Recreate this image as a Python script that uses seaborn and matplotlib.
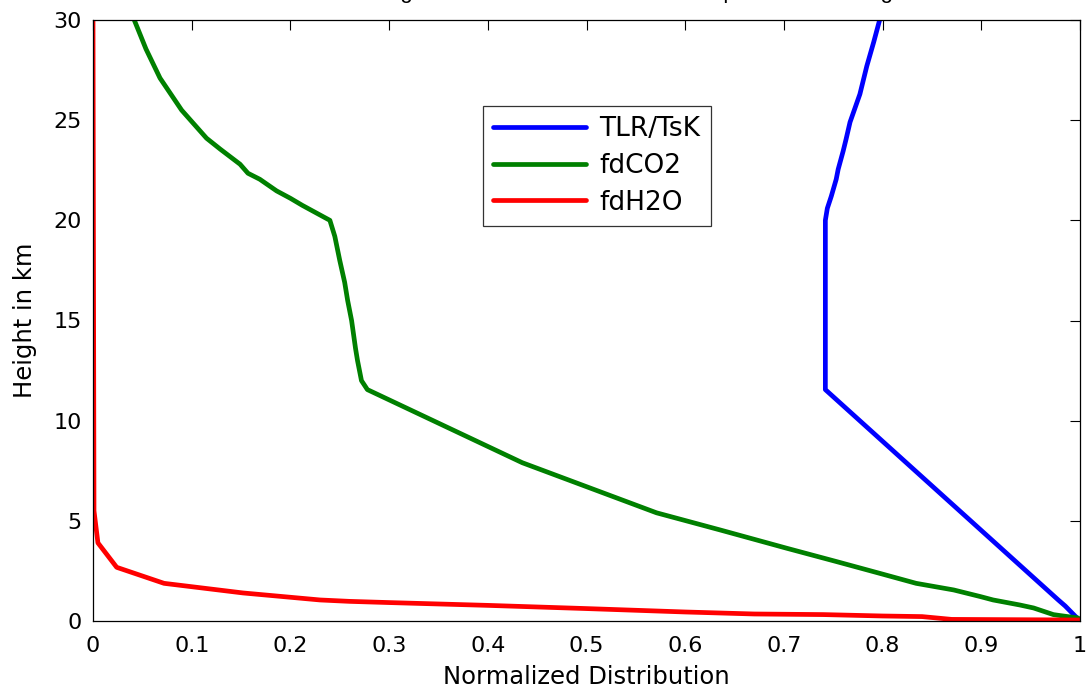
import matplotlib
matplotlib.use("Agg")
import matplotlib.pyplot as plt
import seaborn as sns
import pandas as pd

# ---- data ----
tlr_x = [1.0, 0.985, 0.978, 0.742, 0.742, 0.744, 0.748, 0.753, 0.755, 0.760, 0.763, 0.767, 0.777, 0.784, 0.791, 0.797]
tlr_y = [0.0, 0.75, 1.05, 11.55, 20.0, 20.6, 21.2, 22.05, 22.55, 23.45, 24.05, 24.9, 26.3, 27.7, 28.9, 30.0]

co2_x = [1.0, 0.998, 0.98, 0.973, 0.953, 0.939, 0.912, 0.899, 0.872, 0.834, 0.797, 0.753, 0.703, 0.635,
         0.571, 0.435, 0.278, 0.272, 0.268, 0.266, 0.262, 0.258, 0.255, 0.250, 0.245, 0.240, 0.212, 0.200,
         0.186, 0.169, 0.157, 0.149, 0.129, 0.115, 0.0898, 0.0679, 0.0537, 0.0418]
co2_y = [0.0, 0.15, 0.27, 0.32, 0.65, 0.8, 1.05, 1.22, 1.55, 1.88, 2.38, 2.97, 3.63, 4.55,
         5.4, 7.9, 11.55, 12.0, 13.0, 13.6, 15.0, 16.0, 16.9, 18.0, 19.2, 20.0, 20.75, 21.1,
         21.47, 22.05, 22.35, 22.8, 23.55, 24.1, 25.5, 27.1, 28.55, 30.0]

h2o_x = [1.0, 0.87, 0.84, 0.80, 0.74, 0.67, 0.60, 0.50, 0.40, 0.30, 0.26, 0.23, 0.152, 0.072, 0.024, 0.005, 0.001, 0.0]
h2o_y = [0.05, 0.08, 0.22, 0.25, 0.32, 0.35, 0.45, 0.62, 0.78, 0.92, 0.98, 1.05, 1.4, 1.88, 2.68, 3.9, 5.5, 30.0]

series_names = ["TLR/TsK", "fdCO2", "fdH2O"]
series_colors = ["#0000ff", "#008000", "#ff0000"]
x_ticks = [0, 0.1, 0.2, 0.3, 0.4, 0.5, 0.6, 0.7, 0.8, 0.9, 1]
x_ticklabels = ["0", "0.1", "0.2", "0.3", "0.4", "0.5", "0.6", "0.7", "0.8", "0.9", "1"]
y_ticks = [0, 5, 10, 15, 20, 25, 30]
title_text = "Relative Height Distribution of Normalized Lapse Rate Forcing"

rows = []
for name, xs, ys in zip(series_names, [tlr_x, co2_x, h2o_x], [tlr_y, co2_y, h2o_y]):
    for i, (xv, yv) in enumerate(zip(xs, ys)):
        rows.append({"series": name, "x": xv, "y": yv, "order": i})
df = pd.DataFrame(rows)

sns.set_theme(style="white")
plt.rcParams["font.family"] = ["DejaVu Sans"]
plt.rcParams["text.color"] = "black"
plt.rcParams["axes.labelcolor"] = "black"

fig = plt.figure(figsize=(10.88, 6.89), dpi=100)
ax = fig.add_axes([93 / 1088, 1 - 621 / 689, (1080 - 93) / 1088, (621 - 20) / 689])

sns.lineplot(data=df, x="x", y="y", hue="series", hue_order=series_names,
             palette=dict(zip(series_names, series_colors)), sort=False, estimator=None,
             units="series", linewidth=3.4, ax=ax, legend=False)

ax.set_xlim(0, 1)
ax.set_ylim(0, 30)
ax.set_xticks(x_ticks)
ax.set_xticklabels(x_ticklabels)
ax.set_yticks(y_ticks)
ax.tick_params(direction="in", length=7, width=0.8, colors="black", labelsize=16,
               top=True, right=True, labeltop=False, labelright=False)
ax.tick_params(axis="x", pad=11)
ax.tick_params(axis="y", pad=8)
for s in ax.spines.values():
    s.set_visible(True)
    s.set_color("black")
    s.set_linewidth(0.9)
ax.set_xlabel("Normalized Distribution", fontsize=17.5, labelpad=6, color="black")
ax.set_ylabel("Height in km", fontsize=17.5, labelpad=12, color="black")

handles = [plt.Line2D([], [], color=c, lw=3.4) for c in series_colors]
leg = ax.legend(handles, series_names, loc="upper left", bbox_to_anchor=(0.395, 0.857),
                fontsize=19, frameon=True, fancybox=False, handlelength=3.5,
                borderpad=0.4, labelspacing=0.4, handletextpad=0.5, borderaxespad=0)
leg.get_frame().set_edgecolor("black")
leg.get_frame().set_linewidth(0.9)
for t in leg.get_texts():
    t.set_color("black")

fig.text((93 + 1080) / 2 / 1088, 1 + 2 / 689, title_text, ha="center", va="baseline",
         fontsize=16, color="black", family=["Liberation Sans", "DejaVu Sans"])

fig.savefig("out.png", dpi=100)
